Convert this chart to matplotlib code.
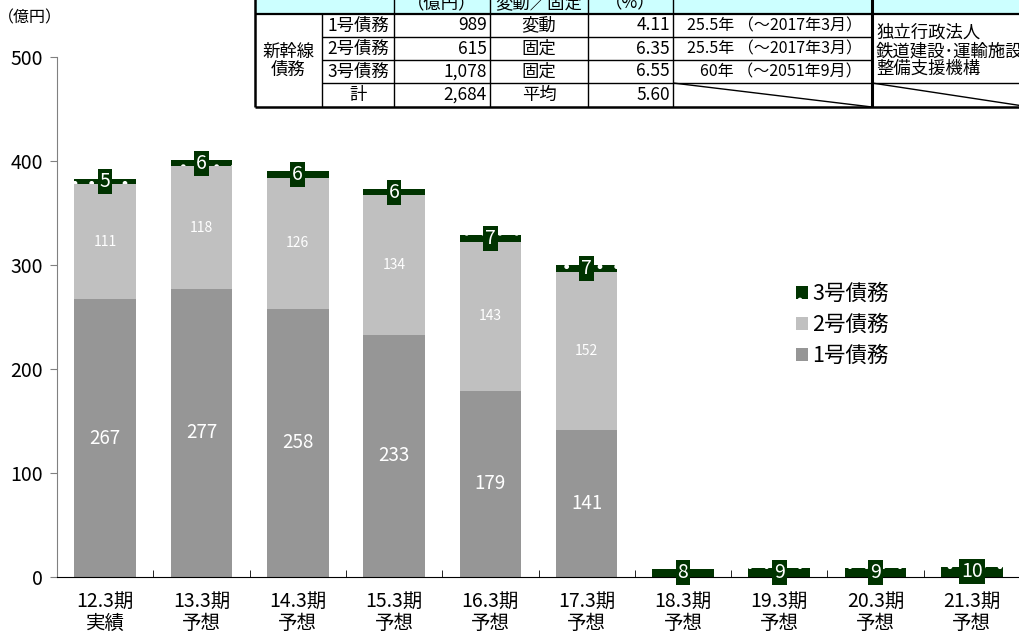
import numpy as np
import matplotlib.pyplot as plt
from matplotlib.patches import Patch, Rectangle

plt.rcParams['font.family'] = ['Noto Sans CJK JP', 'DejaVu Sans']
plt.rcParams['hatch.linewidth'] = 1.0

# 償還予定（億円）
periods = ['12.3期\n実績', '13.3期\n予想', '14.3期\n予想', '15.3期\n予想', '16.3期\n予想',
           '17.3期\n予想', '18.3期\n予想', '19.3期\n予想', '20.3期\n予想', '21.3期\n予想']
debt1 = [267, 277, 258, 233, 179, 141, 0, 0, 0, 0]
debt2 = [111, 118, 126, 134, 143, 152, 0, 0, 0, 0]
debt3 = [5, 6, 6, 6, 7, 7, 8, 9, 9, 10]
names = ['1号債務', '2号債務', '3号債務']

# 上の表
tbl_head = ['（億円）', '変動／固定', '（%）']
tbl_rows = ['1号債務', '2号債務', '3号債務', '計']
tbl_amount = ['989', '615', '1,078', '2,684']
tbl_type = ['変動', '固定', '固定', '平均']
tbl_rate = ['4.11', '6.35', '6.55', '5.60']
tbl_term = ['25.5年 （～2017年3月）', '25.5年 （～2017年3月）', '60年 （～2051年9月）']
tbl_group = '新幹線\n債務'
tbl_lender = '独立行政法人\n鉄道建設･運輸施設\n整備支援機構'

c1, c2, c3 = '#969696', '#c0c0c0', '#003300'

fig = plt.figure(figsize=(10.19, 6.35), dpi=100)
ax = fig.add_axes([57 / 1019, 58 / 635, 963 / 1019, 520 / 635])

x = np.arange(len(periods))
w = 0.64
b1 = ax.bar(x, debt1, w, color=c1, linewidth=0)
b2 = ax.bar(x, debt2, w, bottom=debt1, color=c2, linewidth=0)
bottom3 = np.array(debt1) + np.array(debt2)
b3 = ax.bar(x, debt3, w, bottom=bottom3, color=c3, edgecolor='white',
            linewidth=0, hatch='.')

ax.bar_label(b1, labels=[str(v) if v else '' for v in debt1], label_type='center',
             color='white', fontsize=13.5)
ax.bar_label(b2, labels=[str(v) if v else '' for v in debt2], label_type='center',
             color='white', fontsize=10)
ax.bar_label(b3, labels=[str(v) for v in debt3], label_type='center',
             color='white', fontsize=14,
             bbox=dict(boxstyle='square,pad=0.1', fc=c3, ec='none'))

ax.set_xlim(-0.5, len(periods) - 0.5)
ax.set_ylim(0, 500)
ax.set_yticks(range(0, 501, 100))
ax.set_xticks(x)
ax.set_xticklabels(periods, fontsize=14, linespacing=1.05)
ax.set_xticks(np.arange(len(periods) + 1) - 0.5, minor=True)
ax.tick_params(axis='x', which='major', length=0, pad=10)
ax.tick_params(axis='x', which='minor', length=5, direction='in', color='black')
ax.tick_params(axis='y', length=5, direction='out', color='#808080', labelsize=14, pad=5)
for s in ['top', 'right']:
    ax.spines[s].set_visible(False)
ax.spines['left'].set_color('#808080')
ax.spines['bottom'].set_color('black')

fig.text(30 / 1019, 1 - 18 / 635, '（億円）', ha='center', va='center', fontsize=11.5)

handles = [Patch(fc=c3, ec='white', lw=0, hatch='.', label=names[2]),
           Patch(fc=c2, lw=0, label=names[1]),
           Patch(fc=c1, lw=0, label=names[0])]
fig.legend(handles=handles, loc='upper left', bbox_to_anchor=(796 / 1019, 1 - 283 / 635),
           frameon=False, fontsize=15.5, handlelength=0.55, handleheight=0.55,
           handletextpad=0.2, labelspacing=0.42, borderpad=0, borderaxespad=0)

# 表をピクセル座標で描く
tx = fig.add_axes([0, 0, 1, 1], zorder=5)
tx.set_xlim(0, 1019)
tx.set_ylim(635, 0)
tx.axis('off')
cx = [255, 322, 394, 490, 588, 673, 872, 1030]
ry = [-12, 14, 37, 60, 83, 107]
tx.add_patch(Rectangle((cx[0], ry[0]), cx[-1] - cx[0], ry[1] - ry[0], fc='#ccffff', ec='none'))
lk = dict(color='black', lw=1.0, solid_capstyle='butt')
tx.plot([cx[0], cx[0]], [ry[0], ry[-1]], **dict(lk, lw=1.8))
tx.plot([cx[0], cx[-1]], [ry[-1], ry[-1]], **dict(lk, lw=1.8))
tx.plot([cx[0], cx[-1]], [ry[1], ry[1]], **dict(lk, lw=1.6))
for y in ry[2:4]:
    tx.plot([cx[1], cx[6]], [y, y], **lk)
tx.plot([cx[1], cx[-1]], [ry[4], ry[4]], **lk)
tx.plot([cx[1], cx[1]], [ry[1], ry[-1]], **lk)
for xx in cx[2:6]:
    tx.plot([xx, xx], [ry[0], ry[-1]], **lk)
tx.plot([cx[6], cx[6]], [ry[0], ry[-1]], **dict(lk, lw=2.2))
tx.plot([cx[5], cx[6]], [ry[4], ry[5]], **lk)
tx.plot([cx[6], cx[7]], [ry[4], ry[5]], **lk)

fs = 12.5
for i, t in enumerate(tbl_head):
    tx.text((cx[2 + i] + cx[3 + i]) / 2, 3, t, ha='center', va='center', fontsize=fs)
tx.text((cx[0] + cx[1]) / 2, (ry[1] + ry[5]) / 2, tbl_group, ha='center', va='center',
        fontsize=fs, linespacing=1.0)
for r in range(4):
    yc = (ry[r + 1] + ry[r + 2]) / 2
    tx.text((cx[1] + cx[2]) / 2, yc, tbl_rows[r], ha='center', va='center', fontsize=fs)
    tx.text(cx[3] - 3, yc, tbl_amount[r], ha='right', va='center', fontsize=fs)
    tx.text((cx[3] + cx[4]) / 2, yc, tbl_type[r], ha='center', va='center', fontsize=fs)
    tx.text(cx[5] - 3, yc, tbl_rate[r], ha='right', va='center', fontsize=fs)
    if r < 3:
        tx.text(cx[6] - 10, yc, tbl_term[r], ha='right', va='center', fontsize=11.5)
tx.text(cx[6] + 4, 51, tbl_lender, ha='left', va='center', fontsize=fs, linespacing=1.0)

fig.savefig('out.png', dpi=100)
